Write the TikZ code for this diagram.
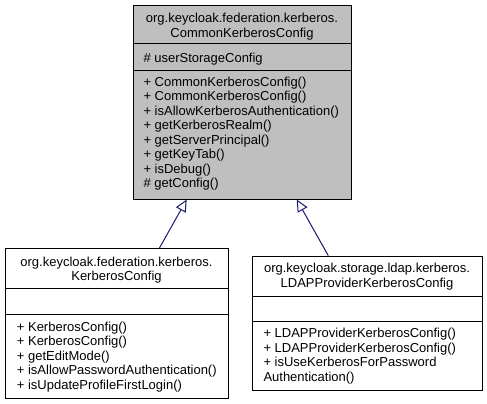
\documentclass[tikz,border=0pt]{standalone}
\usepackage{fontspec}
\setmainfont{Liberation Sans}
\usetikzlibrary{arrows.meta}
\definecolor{boxgray}{RGB}{191,191,191}
\definecolor{edgeblue}{RGB}{25,25,112}
\tikzset{
  classbox/.style={draw=black, line width=1pt, inner sep=0pt, anchor=north west},
  divider/.style={draw=black, line width=1pt},
  txt/.style={inner sep=0pt, font=\fontsize{13}{14.5}\selectfont, anchor=base west},
  ctxt/.style={inner sep=0pt, font=\fontsize{13}{14.5}\selectfont, anchor=base},
  inh/.style={draw=edgeblue, line width=1pt, -{Triangle[open, length=12pt, width=11pt, fill=white]}}
}
\begin{document}
\begin{tikzpicture}[x=1pt,y=1pt]
\useasboundingbox (0,0) rectangle (487,-404);
% base class
\node[classbox, fill=boxgray, minimum width=218pt, minimum height=193pt] (base) at (133,-5.5) {};
\draw[divider] (base.west |- 0,-44) -- (base.east |- 0,-44);
\draw[divider] (base.west |- 0,-70.5) -- (base.east |- 0,-70.5);
\node[ctxt] (b1) at (242,-22.8) {org.keycloak.federation.kerberos.};
\node[ctxt] (b2) at (242,-37.8) {CommonKerberosConfig};
\node[txt] (ba) at (143.3,-62.8) {\# userStorageConfig};
\node[txt] (bm1) at (143.3,-86.2) {+ CommonKerberosConfig()};
\node[txt] (bm2) at (143.3,-100.7) {+ CommonKerberosConfig()};
\node[txt] (bm3) at (143.3,-115.2) {+ isAllowKerberosAuthentication()};
\node[txt] (bm4) at (143.3,-129.7) {+ getKerberosRealm()};
\node[txt] (bm5) at (143.3,-144.2) {+ getServerPrincipal()};
\node[txt] (bm6) at (143.3,-158.7) {+ getKeyTab()};
\node[txt] (bm7) at (143.3,-173.2) {+ isDebug()};
\node[txt] (bm8) at (143.3,-187.7) {\# getConfig()};
% left derived
\node[classbox, fill=white, minimum width=223pt, minimum height=150pt] (kc) at (5,-248.3) {};
\draw[divider] (kc.west |- 0,-288.3) -- (kc.east |- 0,-288.3);
\draw[divider] (kc.west |- 0,-314) -- (kc.east |- 0,-314);
\node[ctxt] (k1) at (116.5,-266.2) {org.keycloak.federation.kerberos.};
\node[ctxt] (k2) at (116.5,-280.5) {KerberosConfig};
\node[txt] (km1) at (16.7,-331.2) {+ KerberosConfig()};
\node[txt] (km2) at (16.7,-345.7) {+ KerberosConfig()};
\node[txt] (km3) at (16.7,-360.2) {+ getEditMode()};
\node[txt] (km4) at (16.7,-374.7) {+ isAllowPasswordAuthentication()};
\node[txt] (km5) at (16.7,-389.2) {+ isUpdateProfileFirstLogin()};
% right derived
\node[classbox, fill=white, minimum width=230pt, minimum height=134.3pt] (lp) at (252,-255.7) {};
\draw[divider] (lp.west |- 0,-296.7) -- (lp.east |- 0,-296.7);
\draw[divider] (lp.west |- 0,-321.7) -- (lp.east |- 0,-321.7);
\node[ctxt] (l1) at (367,-272.8) {org.keycloak.storage.ldap.kerberos.};
\node[ctxt] (l2) at (367,-287.3) {LDAPProviderKerberosConfig};
\node[txt] (lm1) at (263.3,-337.8) {+ LDAPProviderKerberosConfig()};
\node[txt] (lm2) at (263.3,-352.3) {+ LDAPProviderKerberosConfig()};
\node[txt] (lm3) at (263.3,-366.8) {+ isUseKerberosForPassword};
\node[txt] (lm4) at (263.3,-381.3) {Authentication()};
% inheritance
\draw[inh] ([xshift=154.3pt]kc.north west) -- ([xshift=53.7pt]base.south west);
\draw[inh] ([xshift=76.3pt]lp.north west) -- ([xshift=163.7pt]base.south west);
\end{tikzpicture}
\end{document}
